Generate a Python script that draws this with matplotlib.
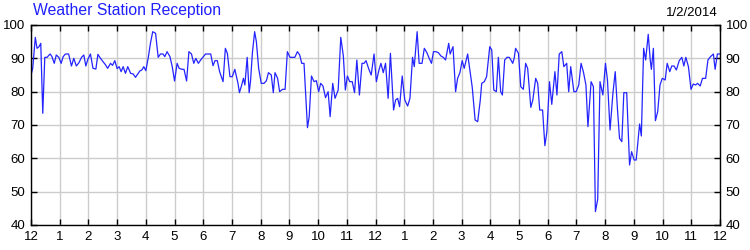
import matplotlib
matplotlib.use("Agg")
import matplotlib.pyplot as plt

# time of day in hours (0 = midnight), reception percentage
hours = [
    0.00, 0.06, 0.15, 0.21, 0.28, 0.34, 0.41, 0.48, 0.56, 0.63, 0.67, 0.73, 0.81, 0.88, 0.97,
    1.05, 1.12, 1.20, 1.31, 1.41, 1.49, 1.58, 1.67, 1.76, 1.84, 1.91, 1.98, 2.07, 2.16, 2.26,
    2.33, 2.42, 2.51, 2.60, 2.67, 2.77, 2.84, 2.92, 3.00, 3.07, 3.14, 3.21, 3.29, 3.37, 3.47,
    3.56, 3.64, 3.72, 3.79, 3.86, 3.93, 4.00, 4.09, 4.16, 4.24, 4.34, 4.43, 4.51, 4.60, 4.66,
    4.74, 4.84, 4.92, 5.00, 5.09, 5.16, 5.26, 5.33, 5.42, 5.50, 5.59, 5.67, 5.74, 5.83, 5.91,
    6.08, 6.26, 6.34, 6.41, 6.49, 6.57, 6.69, 6.77, 6.84, 6.93, 7.01, 7.10, 7.21, 7.26, 7.34,
    7.40, 7.45, 7.53, 7.60,
    7.65, 7.71, 7.79, 7.85, 7.93, 8.02, 8.12, 8.20, 8.27, 8.37, 8.44, 8.50, 8.59, 8.66, 8.76,
    8.85, 8.93, 9.02, 9.10, 9.19, 9.28, 9.36, 9.43, 9.51, 9.63, 9.69, 9.77, 9.86, 9.94, 10.02,
    10.09, 10.17, 10.26, 10.35, 10.42, 10.51, 10.59, 10.70, 10.79, 10.88, 10.95, 11.02, 11.10,
    11.19, 11.27, 11.35, 11.44, 11.53, 11.60, 11.67, 11.77, 11.85, 11.95, 12.03, 12.12, 12.19,
    12.27, 12.35, 12.44, 12.52, 12.63, 12.70, 12.77, 12.84, 12.93, 13.02, 13.12, 13.20, 13.29,
    13.35, 13.45, 13.52, 13.62, 13.70, 13.79, 13.87, 13.95, 14.02, 14.10, 14.19, 14.28, 14.36,
    14.44, 14.55, 14.60, 14.70, 14.79, 14.86, 14.94, 15.02, 15.09, 15.21, 15.30, 15.37, 15.47,
    15.56, 15.65, 15.70, 15.79, 15.87, 15.98, 16.05, 16.12, 16.21, 16.28,
    16.36, 16.42, 16.50, 16.58, 16.66, 16.73, 16.78, 16.83, 16.88, 16.98, 17.06, 17.15, 17.23,
    17.30, 17.41, 17.48, 17.58, 17.65, 17.72, 17.82, 17.90, 17.97, 18.06, 18.14, 18.25, 18.32,
    18.40, 18.49, 18.56, 18.66, 18.73, 18.80, 18.91, 18.99, 19.08, 19.16, 19.24, 19.33, 19.40,
    19.51, 19.59, 19.66, 19.74, 19.82, 19.92, 20.01, 20.08, 20.17, 20.27, 20.35, 20.43, 20.50,
    20.58, 20.65, 20.75, 20.85, 20.92, 21.01, 21.08, 21.20, 21.26, 21.34, 21.41, 21.50, 21.57,
    21.61, 21.68, 21.75, 21.83, 21.91, 21.99, 22.09, 22.16, 22.25, 22.32, 22.40, 22.48, 22.58,
    22.67, 22.74, 22.81, 22.90, 22.99, 23.07, 23.15, 23.22, 23.31, 23.39, 23.50, 23.58, 23.67,
    23.77, 23.83, 23.91, 24.00,
]
reception = [
    85.0, 87.0, 96.3, 93.0, 93.5, 94.5, 73.5, 90.3, 90.3, 91.0, 91.3, 90.5, 88.5, 91.0, 90.3,
    88.5, 90.5, 91.3, 91.3, 87.7, 90.0, 87.7, 88.7, 90.3, 91.0, 87.7, 89.7, 91.3, 87.0, 86.8,
    91.2, 90.0, 89.0, 88.0, 87.0, 88.5, 87.9, 89.3, 86.9, 87.5, 86.0, 87.5, 85.5, 87.5, 85.5,
    85.3, 84.3, 85.3, 86.2, 86.5, 87.5, 86.3, 90.5, 94.5, 98.0, 97.5, 90.3, 91.3, 91.3, 90.5,
    92.0, 90.5, 87.5, 83.2, 88.5, 87.0, 86.7, 86.7, 83.2, 92.0, 91.3, 88.5, 90.0, 88.5, 89.5,
    91.3, 91.3, 87.8, 89.3, 89.3, 86.0, 83.0, 93.0, 91.5, 84.5, 84.5, 86.7, 82.5, 79.7, 82.0,
    84.0, 82.0, 90.3, 79.7,
    83.5, 91.5, 98.0, 95.0, 87.0, 82.5, 82.5, 83.3, 85.7, 85.0, 79.7, 85.7, 84.0, 80.0, 80.7,
    80.7, 92.0, 90.3, 90.3, 90.3, 92.0, 91.0, 88.5, 88.5, 69.2, 72.5, 84.7, 83.0, 83.3, 80.0,
    82.5, 81.7, 78.2, 80.0, 72.5, 82.5, 78.0, 80.5, 96.3, 90.7, 80.5, 84.7, 83.0,
    83.0, 79.7, 89.5, 79.0, 88.5, 88.5, 89.3, 86.7, 85.0, 91.3, 83.0, 86.5, 88.5,
    85.7, 88.5, 78.0, 91.5, 74.5, 77.5, 78.0, 75.5, 84.7, 77.5, 75.7, 78.0, 90.3,
    87.5, 98.0, 88.5, 88.5, 93.0, 91.7, 90.0, 88.5, 92.0, 92.0, 91.7, 90.7, 90.3,
    89.5, 94.5, 91.3, 93.5, 80.0, 84.0, 85.7, 89.3, 87.0, 91.3, 85.7, 81.3, 71.5,
    71.0, 77.5, 82.5, 83.0, 84.5, 93.5, 92.5, 80.5, 80.0, 90.3,
    80.0, 79.0, 89.5, 90.3, 90.3, 89.3, 88.5, 90.0, 93.0, 91.5, 81.5, 80.7, 88.5,
    87.0, 75.3, 77.5, 84.0, 82.5, 74.5, 74.5, 63.8, 68.0, 83.0, 76.2, 86.0, 79.0,
    91.3, 92.0, 87.5, 88.5, 80.0, 87.5, 80.0, 80.0, 82.0, 88.5, 86.0, 82.0, 69.5,
    83.0, 81.5, 44.0, 47.7, 83.0, 79.0, 88.5, 83.5, 68.5, 79.5, 86.0, 74.5, 66.0,
    65.0, 79.7, 79.7, 58.0, 62.0, 59.5, 59.5, 70.3, 66.7, 93.0, 89.5, 97.2, 89.5,
    86.7, 93.0, 71.3, 74.0, 82.0, 84.0, 83.5, 88.5, 86.0, 87.7, 87.7, 86.5, 89.3,
    90.3, 87.7, 90.3, 87.5, 80.7, 82.3, 82.0, 82.5, 81.7, 84.0, 84.0, 89.5, 90.5,
    91.3, 86.7, 91.3, 91.3,
]

hour_ticks = list(range(0, 25))
hour_labels = ["12", "1", "2", "3", "4", "5", "6", "7", "8", "9", "10", "11",
               "12", "1", "2", "3", "4", "5", "6", "7", "8", "9", "10", "11", "12"]
value_ticks = [40, 50, 60, 70, 80, 90, 100]

plt.rcParams['font.family'] = ['Liberation Sans', 'DejaVu Sans']

fig = plt.figure(figsize=(7.5, 2.5), dpi=100)
ax = fig.add_axes([31 / 750, 0.1, 689 / 750, 0.8])

ax.plot(hours, reception, color="#2424ff", linewidth=0.9)

ax.set_xlim(0, 24)
ax.set_ylim(40, 100)
ax.set_xticks(hour_ticks)
ax.set_xticklabels(hour_labels)
ax.set_yticks(value_ticks)
ax.grid(True, color="#cccccc", linewidth=1.0)
ax.set_axisbelow(True)

ax.tick_params(axis="both", direction="in", length=4, width=1, labelsize=9.5,
               colors="black", pad=3)
ax.tick_params(axis="x", top=True, pad=4)
ax.tick_params(axis="y", left=True, right=True, labelright=True, pad=4)
for s in ax.spines.values():
    s.set_linewidth(1.0)
    s.set_color("black")

fig.text(33 / 750, 1 - 11 / 250, "Weather Station Reception", color="#2020ff",
         fontsize=11.3, ha="left", va="center")
fig.text(718 / 750, 1 - 13 / 250, "1/2/2014", color="black",
         fontsize=9.5, ha="right", va="center")

fig.savefig("out.png", dpi=100)
